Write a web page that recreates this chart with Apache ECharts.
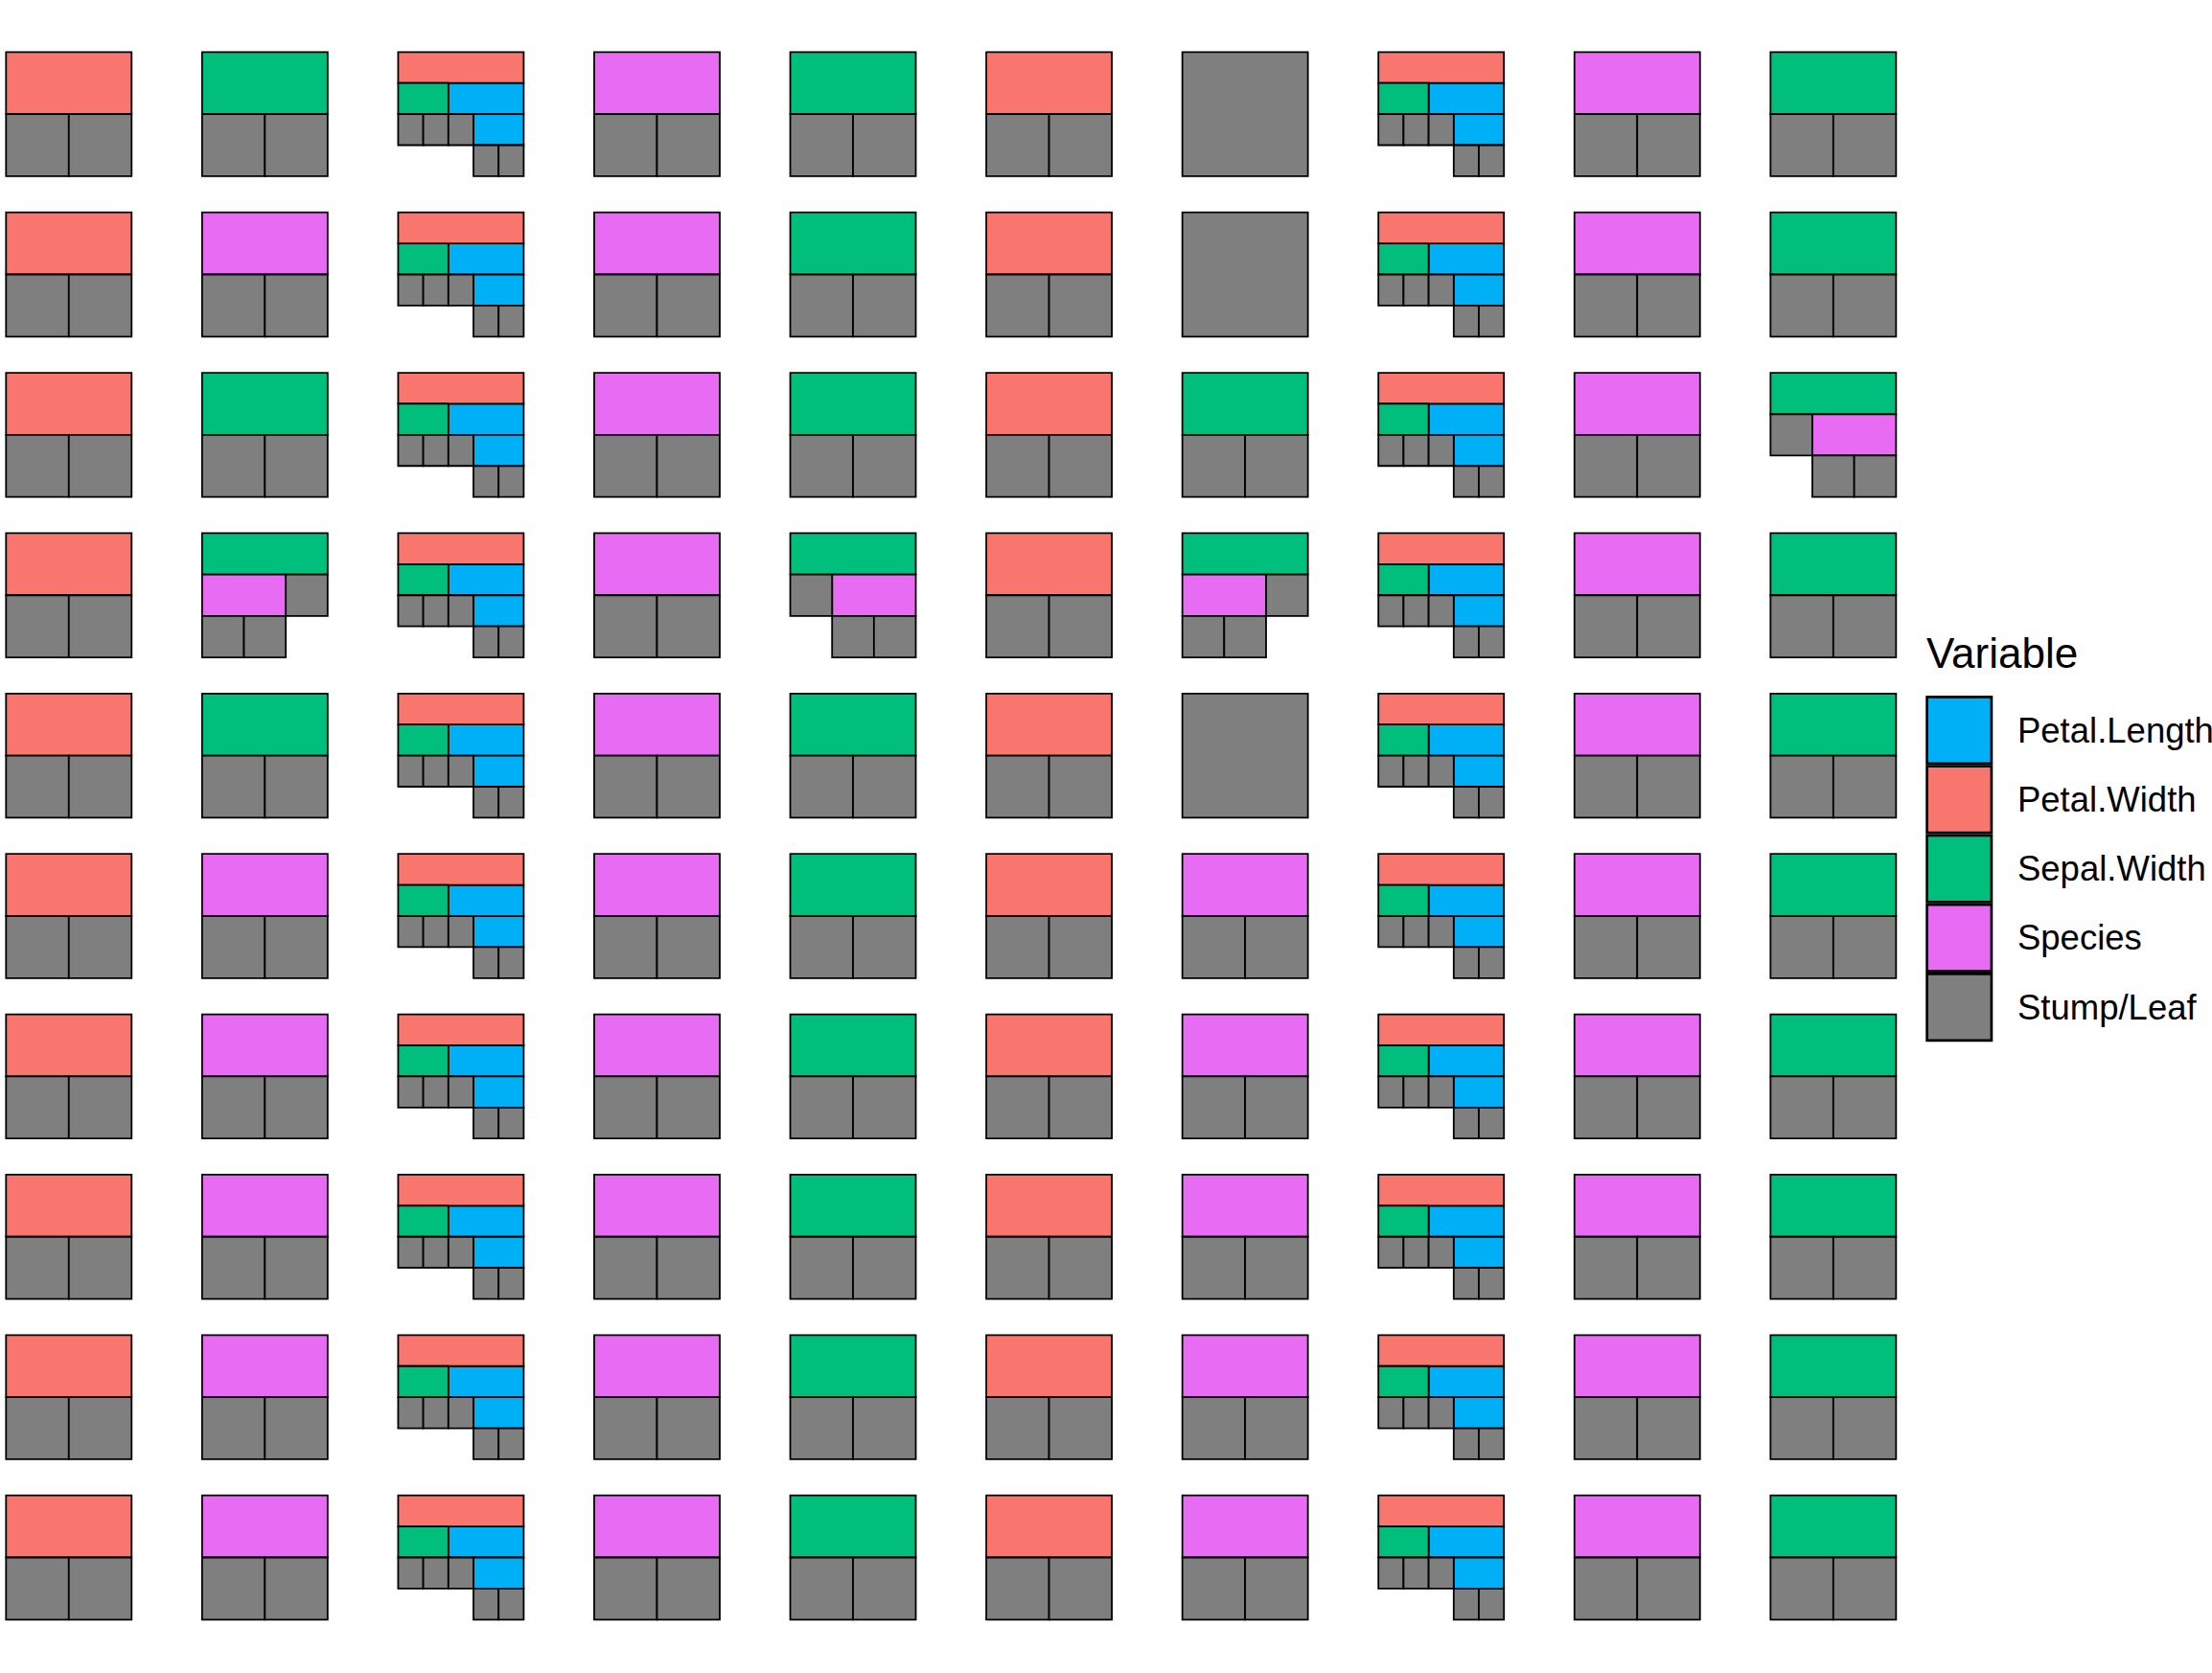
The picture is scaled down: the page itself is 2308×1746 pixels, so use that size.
<!DOCTYPE html>
<html>
<head>
<meta charset="utf-8">
<script src="https://cdn.jsdelivr.net/npm/echarts@6/dist/echarts.min.js"></script>
<style>
html,body{margin:0;padding:0;background:#fff;}
#chart{width:2308px;height:1746px;}
</style>
</head>
<body>
<div id="chart"></div>
<script>
// ---- data ----
const variables = ['Petal.Length', 'Petal.Width', 'Sepal.Width', 'Species', 'Stump/Leaf'];
const variableColors = ['#00B0F6', '#F8766D', '#00BF7D', '#E76BF3', '#7F7F7F'];
const L = 'Stump/Leaf';

// tree shapes: [splitVariable, leftChild, rightChild] ; leaf = [L]
const treePetalWidthStump = ['Petal.Width', [L], [L]];
const treeSepalWidthStump = ['Sepal.Width', [L], [L]];
const treeSpeciesStump = ['Species', [L], [L]];
const treeLeafOnly = [L];
const treeDeep = ['Petal.Width', ['Sepal.Width', [L], [L]], ['Petal.Length', [L], ['Petal.Length', [L], [L]]]];
const treeSepalSpeciesLeft = ['Sepal.Width', ['Species', [L], [L]], [L]];
const treeSepalSpeciesRight = ['Sepal.Width', [L], ['Species', [L], [L]]];

const shapeByCode = {
  PW: treePetalWidthStump, SW: treeSepalWidthStump, SP: treeSpeciesStump,
  LEAF: treeLeafOnly, DEEP: treeDeep, SWL: treeSepalSpeciesLeft, SWR: treeSepalSpeciesRight
};

// which tree is in each panel (rows top to bottom)
const treeRow0 = ['PW', 'SW', 'DEEP', 'SP', 'SW', 'PW', 'LEAF', 'DEEP', 'SP', 'SW'];
const treeRow1 = ['PW', 'SP', 'DEEP', 'SP', 'SW', 'PW', 'LEAF', 'DEEP', 'SP', 'SW'];
const treeRow2 = ['PW', 'SW', 'DEEP', 'SP', 'SW', 'PW', 'SW', 'DEEP', 'SP', 'SWR'];
const treeRow3 = ['PW', 'SWL', 'DEEP', 'SP', 'SWR', 'PW', 'SWL', 'DEEP', 'SP', 'SW'];
const treeRow4 = ['PW', 'SW', 'DEEP', 'SP', 'SW', 'PW', 'LEAF', 'DEEP', 'SP', 'SW'];
const treeRow5 = ['PW', 'SP', 'DEEP', 'SP', 'SW', 'PW', 'SP', 'DEEP', 'SP', 'SW'];
const treeRow6 = ['PW', 'SP', 'DEEP', 'SP', 'SW', 'PW', 'SP', 'DEEP', 'SP', 'SW'];
const treeRow7 = ['PW', 'SP', 'DEEP', 'SP', 'SW', 'PW', 'SP', 'DEEP', 'SP', 'SW'];
const treeRow8 = ['PW', 'SP', 'DEEP', 'SP', 'SW', 'PW', 'SP', 'DEEP', 'SP', 'SW'];
const treeRow9 = ['PW', 'SP', 'DEEP', 'SP', 'SW', 'PW', 'SP', 'DEEP', 'SP', 'SW'];
const treeRows = [treeRow0, treeRow1, treeRow2, treeRow3, treeRow4, treeRow5, treeRow6, treeRow7, treeRow8, treeRow9];

// ---- layout (icicle partition of each tree inside its panel) ----
const colPitch = 204.56, rowPitch = 167.38, tileW = 131, tileH = 129.6;
const fracW = tileW / colPitch, fracH = tileH / rowPitch;

function depthOf(n) { return n.length === 1 ? 1 : 1 + Math.max(depthOf(n[1]), depthOf(n[2])); }
function leavesOf(n) { return n.length === 1 ? 1 : leavesOf(n[1]) + leavesOf(n[2]); }

const rectsByVar = variables.map(() => []);
treeRows.forEach((row, r) => {
  row.forEach((code, c) => {
    const tree = shapeByCode[code];
    const D = depthOf(tree), N = leavesOf(tree);
    (function place(node, level, offset) {
      const n = leavesOf(node);
      const x0 = c + (offset / N) * fracW, x1 = c + ((offset + n) / N) * fracW;
      const y0 = r + (level / D) * fracH, y1 = r + ((level + 1) / D) * fracH;
      rectsByVar[variables.indexOf(node[0])].push([x0, x1, y0, y1]);
      if (node.length > 1) {
        place(node[1], level + 1, offset);
        place(node[2], level + 1, offset + leavesOf(node[1]));
      }
    })(tree, 0, 0);
  });
});

function renderItem(params, api) {
  const p0 = api.coord([api.value(0), api.value(2)]);
  const p1 = api.coord([api.value(1), api.value(3)]);
  return {
    type: 'rect',
    shape: { x: p0[0], y: p0[1], width: p1[0] - p0[0], height: p1[1] - p0[1] },
    style: { fill: api.visual('color'), stroke: '#000', lineWidth: 1.8 }
  };
}

const FONT = 'Liberation Sans, Arial, Helvetica, sans-serif';
const chart = echarts.init(document.getElementById('chart'), null, { renderer: 'svg' });
chart.setOption({
  animation: false,
  backgroundColor: '#fff',
  title: {
    text: 'Variable', left: 2010, top: 659, padding: 0,
    textStyle: { fontFamily: FONT, fontSize: 44, fontWeight: 'normal', color: '#000' }
  },
  legend: {
    orient: 'vertical', left: 2009.3, top: 726, padding: 0,
    itemWidth: 67.3, itemHeight: 69.55, itemGap: 0, icon: 'rect', selectedMode: false,
    itemStyle: { borderColor: '#000', borderWidth: 2.7 },
    textStyle: { fontFamily: FONT, fontSize: 36.5, color: '#000', padding: [0, 0, 0, 22] },
    data: variables
  },
  grid: { left: 6.3, top: 54.3, width: 9 * colPitch + tileW, height: 9 * rowPitch + tileH },
  xAxis: { type: 'value', min: 0, max: 9 + fracW, show: false },
  yAxis: { type: 'value', min: 0, max: 9 + fracH, inverse: true, show: false },
  series: variables.map((v, i) => ({
    name: v, type: 'custom', renderItem: renderItem, clip: false,
    itemStyle: { color: variableColors[i] },
    encode: { x: [0, 1], y: [2, 3] },
    data: rectsByVar[i]
  }))
});
</script>
</body>
</html>
